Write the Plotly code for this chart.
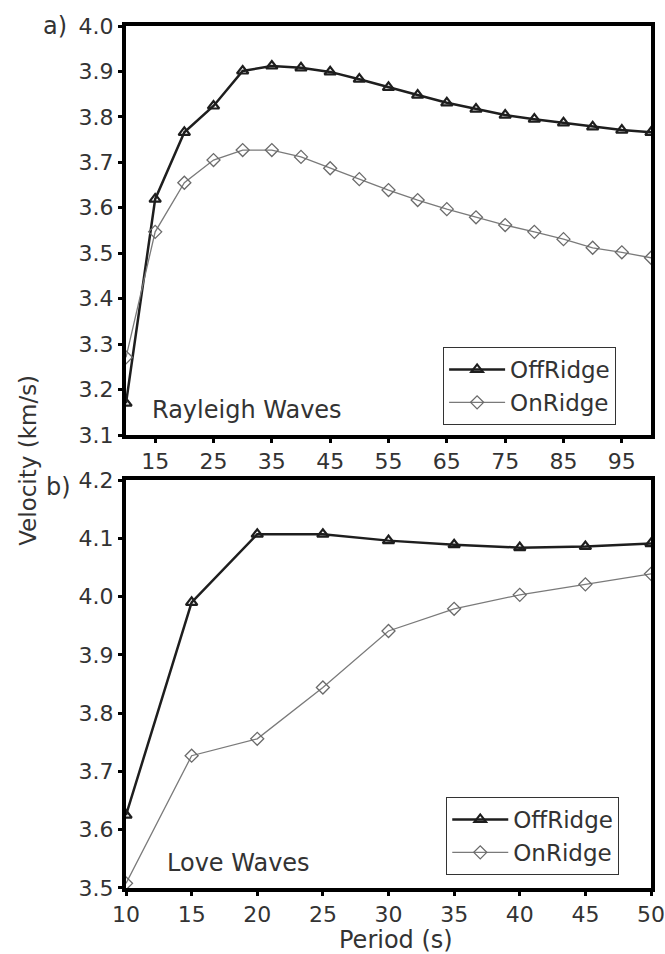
import plotly.graph_objects as go

# Rayleigh waves (panel a)
periods_a = [10, 15, 20, 25, 30, 35, 40, 45, 50, 55, 60, 65, 70, 75, 80, 85, 90, 95, 100]
off_a = [3.17, 3.619, 3.766, 3.824, 3.901, 3.912, 3.908, 3.899, 3.883, 3.865, 3.848,
         3.831, 3.817, 3.804, 3.795, 3.787, 3.778, 3.771, 3.766]
on_a = [3.271, 3.547, 3.655, 3.705, 3.727, 3.727, 3.712, 3.687, 3.663, 3.639, 3.617,
        3.597, 3.579, 3.562, 3.547, 3.531, 3.512, 3.502, 3.490]
xticks_a = [15, 25, 35, 45, 55, 65, 75, 85, 95]
yticks_a = [3.1, 3.2, 3.3, 3.4, 3.5, 3.6, 3.7, 3.8, 3.9, 4.0]

# Love waves (panel b)
periods_b = [10, 15, 20, 25, 30, 35, 40, 45, 50]
off_b = [3.625, 3.990, 4.107, 4.107, 4.096, 4.089, 4.084, 4.086, 4.091]
on_b = [3.508, 3.727, 3.756, 3.844, 3.941, 3.979, 4.003, 4.021, 4.039]
xticks_b = [10, 15, 20, 25, 30, 35, 40, 45, 50]
yticks_b = [3.5, 3.6, 3.7, 3.8, 3.9, 4.0, 4.1, 4.2]

FONT = "DejaVu Sans"
TXT = "#333333"
off_style = dict(mode="lines+markers", line=dict(color="#1e1e1e", width=2.5),
                 marker=dict(symbol="triangle-up-open", size=10, color="#1e1e1e",
                             line=dict(width=2.2, color="#1e1e1e")))
on_style = dict(mode="lines+markers", line=dict(color="#7a7a7a", width=1.3),
                marker=dict(symbol="diamond-open", size=10, color="#6a6a6a",
                            line=dict(width=1.3, color="#6a6a6a")))

fig = go.Figure()
fig.add_trace(go.Scatter(x=periods_a, y=off_a, name="OffRidge", xaxis="x", yaxis="y",
                         legend="legend", **off_style))
fig.add_trace(go.Scatter(x=periods_a, y=on_a, name="OnRidge", xaxis="x", yaxis="y",
                         legend="legend", **on_style))
fig.add_trace(go.Scatter(x=periods_b, y=off_b, name="OffRidge", xaxis="x2", yaxis="y2",
                         legend="legend2", **off_style))
fig.add_trace(go.Scatter(x=periods_b, y=on_b, name="OnRidge", xaxis="x2", yaxis="y2",
                         legend="legend2", **on_style))

axis_common = dict(showline=True, linecolor="black", linewidth=4, mirror=True,
                   ticks="outside", ticklen=4, tickwidth=3, tickcolor="black",
                   showgrid=False, zeroline=False, automargin=False,
                   tickfont=dict(family=FONT, size=22, color=TXT))

legend_common = dict(bgcolor="white", bordercolor="#333", borderwidth=1,
                     font=dict(family=FONT, size=23, color=TXT),
                     xanchor="left", yanchor="top", tracegroupgap=0,
                     itemwidth=56)

fig.update_layout(
    width=665, height=954,
    margin=dict(l=126, r=14, t=26, b=66, autoexpand=False),
    plot_bgcolor="white", paper_bgcolor="white",
    font=dict(family=FONT, color=TXT),
    xaxis=dict(domain=[0, 1], range=[10, 100], tickvals=xticks_a, anchor="y",
               **axis_common),
    yaxis=dict(domain=[0.5255, 1], range=[3.1, 4.0], tickvals=yticks_a,
               tickformat=".1f", anchor="x", **axis_common),
    xaxis2=dict(domain=[0, 1], range=[10, 50], tickvals=xticks_b, anchor="y2",
                **axis_common),
    yaxis2=dict(domain=[0, 0.4733], range=[3.5, 4.2], tickvals=yticks_b,
                tickformat=".1f", anchor="x2", **axis_common),
    legend=dict(x=0.604, y=(888 - 347) / 862, **legend_common),
    legend2=dict(x=0.61, y=(888 - 797) / 862, **legend_common),
    showlegend=True,
)

ann_font = dict(family=FONT, size=24, color=TXT)
fig.add_annotation(text="a)", x=-0.135, y=1.0, xref="paper", yref="paper",
                   xanchor="center", yanchor="middle", showarrow=False, font=ann_font)
fig.add_annotation(text="b)", x=-0.129, y=0.465, xref="paper", yref="paper",
                   xanchor="center", yanchor="middle", showarrow=False, font=ann_font)
fig.add_annotation(text="Rayleigh Waves", x=0.0457, y=0.5545, xref="paper", yref="paper",
                   xanchor="left", yanchor="middle", showarrow=False, font=ann_font)
fig.add_annotation(text="Love Waves", x=0.074, y=0.029, xref="paper", yref="paper",
                   xanchor="left", yanchor="middle", showarrow=False, font=ann_font)
fig.add_annotation(text="Velocity (km/s)", x=-0.187, y=0.4965, xref="paper", yref="paper",
                   xanchor="center", yanchor="middle", textangle=-90, showarrow=False,
                   font=dict(family=FONT, size=23, color=TXT))
fig.add_annotation(text="Period (s)", x=(396 - 126) / 525, y=(888 - 940) / 862,
                   xref="paper", yref="paper", xanchor="center", yanchor="middle",
                   showarrow=False, font=dict(family=FONT, size=24, color=TXT))

fig.write_html("out.html")
